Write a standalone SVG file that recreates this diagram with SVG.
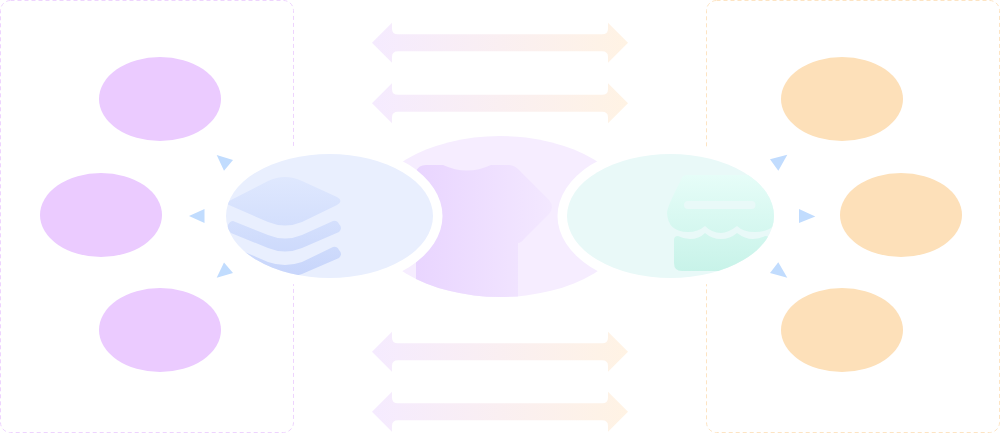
<svg xmlns="http://www.w3.org/2000/svg" width="1000" height="433" viewBox="0 0 1000 433">
<style>
.panel{fill:#fff;stroke-width:1;stroke-dasharray:4 3}
.p{fill:#ebcbff}
.o{fill:#fde0b9}
.tri{fill:#c1dcfe}
.ring{fill:#fff}
</style>
<defs>
<linearGradient id="arrowGrad" x1="0" y1="0" x2="1" y2="0"><stop offset="0" stop-color="#f5ebff"/><stop offset="1" stop-color="#fff3e4"/></linearGradient>
<linearGradient id="shirtGrad" gradientUnits="userSpaceOnUse" x1="416" y1="0" x2="552" y2="0"><stop offset="0" stop-color="#e9d5ff"/><stop offset="1" stop-color="#f3e8ff"/></linearGradient>
<linearGradient id="layerGrad" gradientUnits="userSpaceOnUse" x1="0" y1="177" x2="0" y2="278"><stop offset="0" stop-color="#dfe8fe"/><stop offset="1" stop-color="#c7d5fb"/></linearGradient>
<linearGradient id="waveGrad" gradientUnits="userSpaceOnUse" x1="0" y1="175" x2="0" y2="271"><stop offset="0" stop-color="#e6fdf8"/><stop offset="1" stop-color="#c8f3e9"/></linearGradient>
<clipPath id="clipC"><ellipse cx="500" cy="216.5" rx="133" ry="80.5"/></clipPath>
<clipPath id="clipL"><ellipse cx="329.5" cy="216" rx="103.5" ry="62"/></clipPath>
<clipPath id="clipR"><ellipse cx="670.5" cy="216" rx="103.5" ry="62"/></clipPath>
<path id="dbl" fill="url(#arrowGrad)" d="M372 0L392-20V-14Q392-8.5 398-8.5H602Q608-8.500 608-14V-20L628 0L608 20V14Q608 8.500 602 8.500H398Q392 8.500 392 14V20Z"/>
</defs>
<rect width="1000" height="433" fill="#fff"/>
<g id="panel-left"><rect class="panel" x="0.5" y="0.5" width="293" height="432" rx="10" stroke="#eed4fe"/></g>
<g id="panel-right"><rect class="panel" x="706.5" y="0.5" width="293" height="432" rx="10" stroke="#fde4c3"/></g>
<g id="node-left-1"><ellipse class="p" cx="160" cy="99" rx="61" ry="42"/></g>
<g id="node-left-2"><ellipse class="p" cx="101" cy="215" rx="61" ry="42"/></g>
<g id="node-left-3"><ellipse class="p" cx="160" cy="330" rx="61" ry="42"/></g>
<g id="node-right-1"><ellipse class="o" cx="842" cy="99" rx="61" ry="42"/></g>
<g id="node-right-2"><ellipse class="o" cx="901" cy="215" rx="61" ry="42"/></g>
<g id="node-right-3"><ellipse class="o" cx="842" cy="330" rx="61" ry="42"/></g>
<g id="connectors">
<use href="#dbl" y="42.8"/>
<use href="#dbl" y="103.3"/>
<use href="#dbl" y="351.7"/>
<use href="#dbl" y="411.7"/>
<polygon class="tri" points="216.7,155 233,160 224,170.7"/>
<polygon class="tri" points="189,216 204.500,209 204.500,223"/>
<polygon class="tri" points="216.700,277.700 233,273 224,262.400"/>
<polygon class="tri" points="770,159.300 787.300,154.700 778.300,170.700"/>
<polygon class="tri" points="799,209 815.300,216.500 799,223"/>
<polygon class="tri" points="770,273 787.300,277.700 778.300,262.300"/>
</g>
<g id="node-center">
<ellipse cx="500" cy="216.500" rx="133" ry="80.500" fill="#f6edff"/>
<g clip-path="url(#clipC)"><path fill="url(#shirtGrad)" d="M416 172Q418 165 426 165H443Q467 176 491 165H508Q514 165 518 169L549 200Q555 207 549 214L524 239Q521 243 518 243V300H416Z"/></g>
</g>
<g id="node-layers">
<ellipse class="ring" cx="329.500" cy="216" rx="113" ry="72"/>
<ellipse cx="329.500" cy="216" rx="103.500" ry="62" fill="#e9effe"/>
<g clip-path="url(#clipL)" fill="url(#layerGrad)">
<path d="M229 201L268 181Q285 173 302 181L337 197Q344 201 337 205L302 222Q285 229 268 222L229 205Q222 201 229 201Z"/>
<path d="M233 221L268 235Q285 242 302 235L333 221Q337 220 339 224Q343 228 339 232L302 248Q285 255 268 248L231 233Q226 229 228 225Q230 221 233 221Z"/>
<path d="M233 247L268 262Q285 268 302 262L333 247Q337 246 339 250Q343 254 339 258L302 274Q285 281 268 274L231 259Q226 255 228 251Q230 247 233 247Z"/>
</g>
</g>
<g id="node-waves">
<ellipse class="ring" cx="670.500" cy="216" rx="113" ry="72"/>
<ellipse cx="670.500" cy="216" rx="103.500" ry="62" fill="#e9f9f8"/>
<g clip-path="url(#clipR)" fill="url(#waveGrad)">
<path d="M686 175H780V215Q775 232 755 232Q743 232 737 226Q728 233 721 233Q712 233 705 226Q698 232 688 232Q668 232 667 213Q667 207 680 182Q682 175 686 175Z"/>
<path d="M674 240Q674 236 678 236Q684 239 690 239Q699 239 705 233Q712 239 721 239Q730 239 737 233Q745 239 753 239Q760 239 765 236Q770 236 770 240V271H682Q674 271 674 263Z"/>
</g>
<rect x="684" y="201" width="71.500" height="8" rx="4" fill="#e9f9f8"/>
</g>
</svg>
